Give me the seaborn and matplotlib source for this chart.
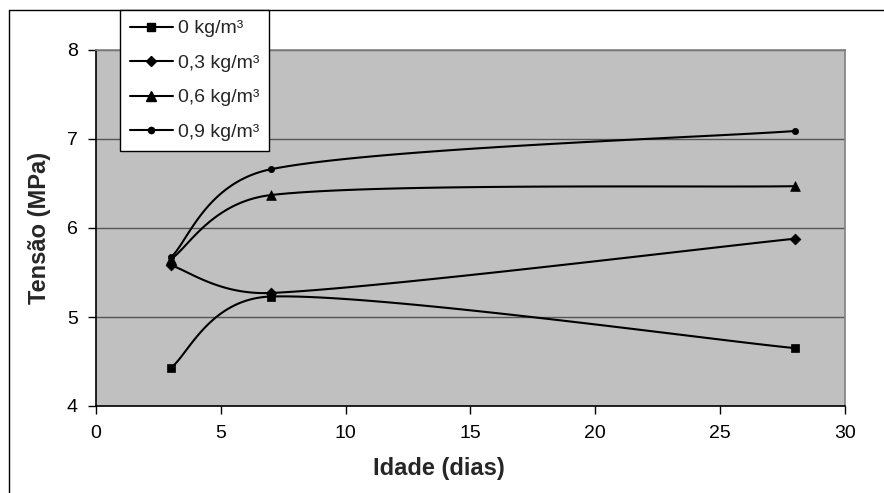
import numpy as np
import pandas as pd
import matplotlib
matplotlib.use("Agg")
import matplotlib.pyplot as plt
from matplotlib.lines import Line2D
import seaborn as sns

# ---- data ----
idade = [3, 7, 28]
series_names = ["0 kg/m³", "0,3 kg/m³", "0,6 kg/m³", "0,9 kg/m³"]
v_0 = [4.43, 5.23, 4.65]
v_03 = [5.58, 5.27, 5.88]
v_06 = [5.65, 6.37, 6.47]
v_09 = [5.67, 6.66, 7.09]
series_values = [v_0, v_03, v_06, v_09]
markers = ["s", "D", "^", "o"]
marker_sizes = [6.0, 5.5, 7.0, 4.5]
x_ticks = [0, 5, 10, 15, 20, 25, 30]
y_ticks = [4, 5, 6, 7, 8]

W, H, DPI = 884, 493, 100
sns.set_theme(style="white")
plt.rcParams["font.family"] = ["Liberation Sans", "DejaVu Sans"]

fig = plt.figure(figsize=(W / DPI, H / DPI), dpi=DPI)
L, R, T, B = 96, 845, 50, 406
ax = fig.add_axes([L / W, 1 - B / H, (R - L) / W, (B - T) / H])
ax.set_xlim(0, 30)
ax.set_ylim(4, 8)
ax.set_facecolor("#C0C0C0")

# pixel scale for Excel-like smoothing
sx = (R - L) / 30.0
sy = (B - T) / 4.0


def smooth(xs, ys, n=40):
    P = np.column_stack([np.asarray(xs, float) * sx, np.asarray(ys, float) * sy])
    m = len(P)
    out = [P[0]]
    for i in range(m - 1):
        p0 = P[i - 1] if i > 0 else P[i]
        p1, p2 = P[i], P[i + 1]
        p3 = P[i + 2] if i + 2 < m else P[i + 1]
        d12 = np.linalg.norm(p2 - p1)
        d02 = np.linalg.norm(p2 - p0)
        d13 = np.linalg.norm(p3 - p1)
        f1 = 1 / 6 if d02 / 6 < d12 / 2 else (d12 / (2 * d02) if d02 > 0 else 0)
        f2 = 1 / 6 if d13 / 6 < d12 / 2 else (d12 / (2 * d13) if d13 > 0 else 0)
        c1 = p1 + (p2 - p0) * f1
        c2 = p2 - (p3 - p1) * f2
        t = np.linspace(0, 1, n)[1:, None]
        seg = ((1 - t) ** 3) * p1 + 3 * ((1 - t) ** 2) * t * c1 + 3 * (1 - t) * t ** 2 * c2 + t ** 3 * p2
        out.extend(seg)
    out = np.array(out)
    return out[:, 0] / sx, out[:, 1] / sy


rows = []
for name, vals in zip(series_names, series_values):
    xs, ys = smooth(idade, vals)
    for k, (a, b) in enumerate(zip(xs, ys)):
        rows.append({"serie": name, "x": a, "y": b, "ord": k})
curves = pd.DataFrame(rows)

pts = pd.DataFrame({
    "serie": np.repeat(series_names, len(idade)),
    "x": idade * len(series_names),
    "y": np.concatenate(series_values),
})

# gridlines
ax.yaxis.grid(True, color="#555555", linewidth=1.0)
ax.xaxis.grid(False)
ax.set_axisbelow(True)

for name in series_names:
    sns.lineplot(data=curves[curves.serie == name], x="x", y="y", sort=False,
                 estimator=None, color="black", linewidth=1.5, ax=ax, legend=False)
for name, mk, ms in zip(series_names, markers, marker_sizes):
    sub = pts[pts.serie == name]
    sns.scatterplot(data=sub, x="x", y="y", marker=mk, s=ms ** 2, color="black",
                    edgecolor="black", linewidth=0.5, ax=ax, legend=False, zorder=5)

ax.set_xticks(x_ticks)
ax.set_yticks(y_ticks)
ax.set_xlabel("")
ax.set_ylabel("")
ax.tick_params(axis="both", which="major", direction="out", length=6, width=1,
               color="black", labelsize=14, labelcolor="black", bottom=True, left=True)
ax.tick_params(axis="x", pad=8)
ax.tick_params(axis="y", pad=7)
for s in ["left", "bottom"]:
    ax.spines[s].set_color("black")
    ax.spines[s].set_linewidth(1.2)
for s in ["right", "top"]:
    ax.spines[s].set_color("#808080")
    ax.spines[s].set_linewidth(1.2)

fig.text(439 / W, 1 - 469 / H, "Idade (dias)", ha="center", va="center",
         fontsize=17, fontweight="bold")
fig.text(40 / W, 1 - 228 / H, "Tensão (MPa)", ha="center", va="center",
         rotation=90, fontsize=17, fontweight="bold")

handles = [Line2D([], [], color="black", linewidth=1.5, marker=mk, markersize=ms,
                  markerfacecolor="black", markeredgecolor="black")
           for mk, ms in zip(markers, marker_sizes)]
leg = fig.legend(handles, series_names, loc="upper left",
                 bbox_to_anchor=(120 / W, 1 - 10 / H), bbox_transform=fig.transFigure,
                 borderaxespad=0, fontsize=14, frameon=True, fancybox=False,
                 handlelength=2.2, handletextpad=0.3, labelspacing=0.87,
                 borderpad=0.5, numpoints=1)
leg.get_frame().set_edgecolor("black")
leg.get_frame().set_linewidth(1.0)
leg.get_frame().set_facecolor("white")
leg.get_frame().set_alpha(1)

# outer chart frame (left and top edges visible)
fig.add_artist(Line2D([8.5 / W, 8.5 / W], [0, 1 - 9.5 / H], transform=fig.transFigure,
                      color="black", linewidth=1.0))
fig.add_artist(Line2D([8.5 / W, 1], [1 - 9.5 / H, 1 - 9.5 / H], transform=fig.transFigure,
                      color="black", linewidth=1.0))

fig.savefig("out.png", dpi=DPI, facecolor="white")
